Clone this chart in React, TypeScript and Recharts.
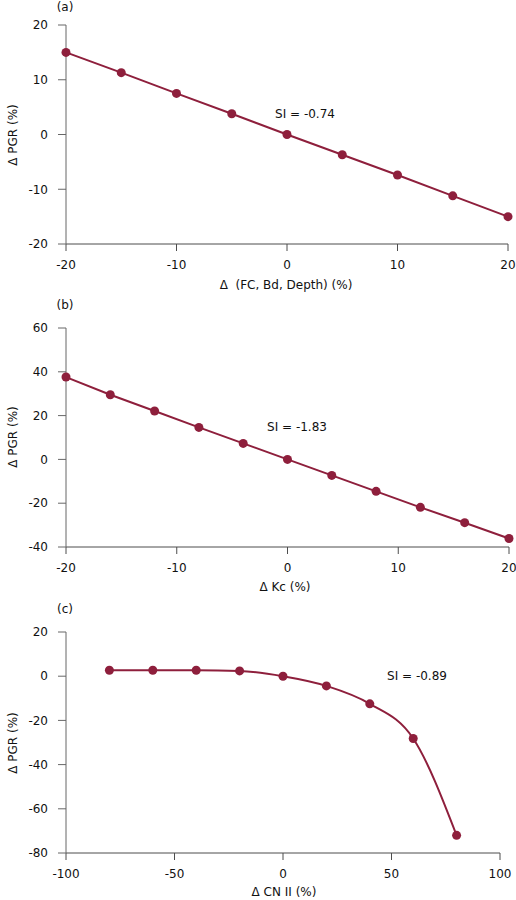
import React from "react";
import { LineChart, Line, XAxis, YAxis } from "recharts";

const FONT = "'DejaVu Sans', Verdana, sans-serif";
const RED = "#8e1f3c";
const X_AXIS = "#4d4d4d";
const Y_AXIS = "#676767";

// (a) soil parameters
const fcChange = [-20, -15, -10, -5, 0, 5, 10, 15, 20];
const fcPgr = [15, 11.3, 7.5, 3.8, 0, -3.7, -7.4, -11.2, -15];
// (b) crop coefficient
const kcChange = [-20, -16, -12, -8, -4, 0, 4, 8, 12, 16, 20];
const kcPgr = [37.6, 29.5, 22.1, 14.6, 7.3, 0, -7.3, -14.6, -21.9, -28.9, -36.1];
// (c) curve number
const cnChange = [-80, -60, -40, -20, 0, 20, 40, 60, 80];
const cnPgr = [2.7, 2.7, 2.7, 2.4, 0, -4.4, -12.5, -28.2, -72];

const ticksA = [-20, -10, 0, 10, 20];
const ticksAY = [-20, -10, 0, 10, 20];
const ticksBY = [-40, -20, 0, 20, 40, 60];
const ticksC = [-100, -50, 0, 50, 100];
const ticksCY = [-80, -60, -40, -20, 0, 20];

const toRows = (xs: number[], ys: number[]) => xs.map((x, i) => ({ x, y: ys[i] }));

const tickStyle = { fontSize: 12, fill: "#111", fontFamily: FONT };

function Panel({
  top,
  height,
  margin,
  xAxisHeight,
  rows,
  xDomain,
  xTicks,
  yDomain,
  yTicks,
  curve,
}: {
  top: number;
  height: number;
  margin: { top: number; right: number; left: number; bottom: number };
  xAxisHeight: number;
  rows: Array<{ x: number; y: number }>;
  xDomain: [number, number];
  xTicks: number[];
  yDomain: [number, number];
  yTicks: number[];
  curve: "linear" | "monotone";
}) {
  return (
    <div style={{ position: "absolute", left: 0, top }}>
      <LineChart width={516} height={height} data={rows} margin={margin}>
        <XAxis
          type="number"
          dataKey="x"
          domain={xDomain}
          ticks={xTicks}
          height={xAxisHeight}
          tickSize={7}
          tickMargin={9}
          stroke={X_AXIS}
          tick={tickStyle}
          interval={0}
        />
        <YAxis
          type="number"
          dataKey="y"
          domain={yDomain}
          ticks={yTicks}
          width={56}
          tickSize={8}
          tickMargin={10}
          stroke={Y_AXIS}
          tick={tickStyle}
          interval={0}
        />
        <Line
          type={curve}
          dataKey="y"
          stroke={RED}
          strokeWidth={2}
          dot={{ r: 4.5, fill: RED, stroke: RED, strokeWidth: 0 }}
          isAnimationActive={false}
        />
      </LineChart>
    </div>
  );
}

function Txt({
  x,
  y,
  children,
  rotate,
}: {
  x: number;
  y: number;
  children: React.ReactNode;
  rotate?: boolean;
}) {
  return (
    <span
      style={{
        position: "absolute",
        left: x,
        top: y,
        transform: `translate(-50%, -50%)${rotate ? " rotate(-90deg)" : ""}`,
        whiteSpace: "pre",
        fontFamily: FONT,
        fontSize: 12,
        lineHeight: "14px",
        color: "#111",
      }}
    >
      {children}
    </span>
  );
}

export default function App() {
  return (
    <div style={{ position: "absolute", left: 0, top: 0, width: 516, height: 900, background: "#fff" }}>
      <Panel
        top={0}
        height={300}
        margin={{ top: 25, right: 8, left: 10, bottom: 6 }}
        xAxisHeight={50}
        rows={toRows(fcChange, fcPgr)}
        xDomain={[-20, 20]}
        xTicks={ticksA}
        yDomain={[-20, 20]}
        yTicks={ticksAY}
        curve="linear"
      />
      <Panel
        top={290}
        height={310}
        margin={{ top: 38, right: 7, left: 10, bottom: 3 }}
        xAxisHeight={50}
        rows={toRows(kcChange, kcPgr)}
        xDomain={[-20, 20]}
        xTicks={ticksA}
        yDomain={[-40, 60]}
        yTicks={ticksBY}
        curve="linear"
      />
      <Panel
        top={600}
        height={300}
        margin={{ top: 32, right: 16, left: 10, bottom: 3 }}
        xAxisHeight={44}
        rows={toRows(cnChange, cnPgr)}
        xDomain={[-100, 100]}
        xTicks={ticksC}
        yDomain={[-80, 20]}
        yTicks={ticksCY}
        curve="monotone"
      />

      <Txt x={65} y={7}>(a)</Txt>
      <Txt x={65} y={305}>(b)</Txt>
      <Txt x={65} y={609}>(c)</Txt>

      <Txt x={13} y={135} rotate>Δ PGR (%)</Txt>
      <Txt x={13} y={437} rotate>Δ PGR (%)</Txt>
      <Txt x={13} y={743} rotate>Δ PGR (%)</Txt>

      <Txt x={286} y={285}>Δ  (FC, Bd, Depth) (%)</Txt>
      <Txt x={285} y={587}>Δ Kc (%)</Txt>
      <Txt x={284} y={892}>Δ CN II (%)</Txt>

      <Txt x={305} y={114}>SI = -0.74</Txt>
      <Txt x={297} y={427}>SI = -1.83</Txt>
      <Txt x={417} y={676}>SI = -0.89</Txt>
    </div>
  );
}
